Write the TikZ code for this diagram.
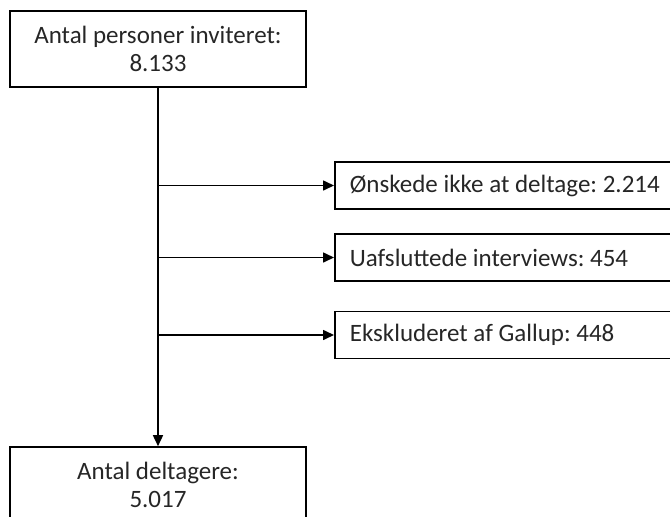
\documentclass[tikz,border=0pt]{standalone}
\usepackage{fontspec}
\setmainfont{Carlito}
\usetikzlibrary{arrows.meta,positioning}
\tikzset{
    box/.style={draw, line width=1.6pt, minimum width=296pt, minimum height=76pt, inner sep=0pt, align=center},
    sidebox/.style={draw, line width=1.6pt, anchor=west, minimum width=346pt, minimum height=47pt, text width=316pt, inner xsep=15pt, inner ysep=0pt, align=flush left},
    flow/.style={line width=1.6pt, -{Triangle[length=11pt,width=10pt]}}
}

\begin{document}
\frenchspacing
\begin{tikzpicture}[x=1pt,y=-1pt,font=\fontsize{25}{28}\selectfont,text=black!85]
\clip (0,0) rectangle (670,517);
\node[box] (inv) at (158,49) {Antal personer inviteret:\\8.133};
\node[box] (del) at (158,485) {Antal deltagere:\\5.017};
\node[sidebox] (s1) at (334,185.5) {Ønskede ikke at deltage: 2.214};
\node[sidebox] (s2) at (334,257.5) {Uafsluttede interviews: 454};
\node[sidebox] (s3) at (334,335) {Ekskluderet af Gallup: 448};
\coordinate (b1) at (inv.south |- s1.west);
\coordinate (b2) at (inv.south |- s2.west);
\coordinate (b3) at (inv.south |- s3.west);
\draw[flow] (inv.south) -- (del.north);
\draw[flow] (b1) -- (s1.west);
\draw[flow] (b2) -- (s2.west);
\draw[flow] (b3) -- (s3.west);
\end{tikzpicture}
\end{document}
